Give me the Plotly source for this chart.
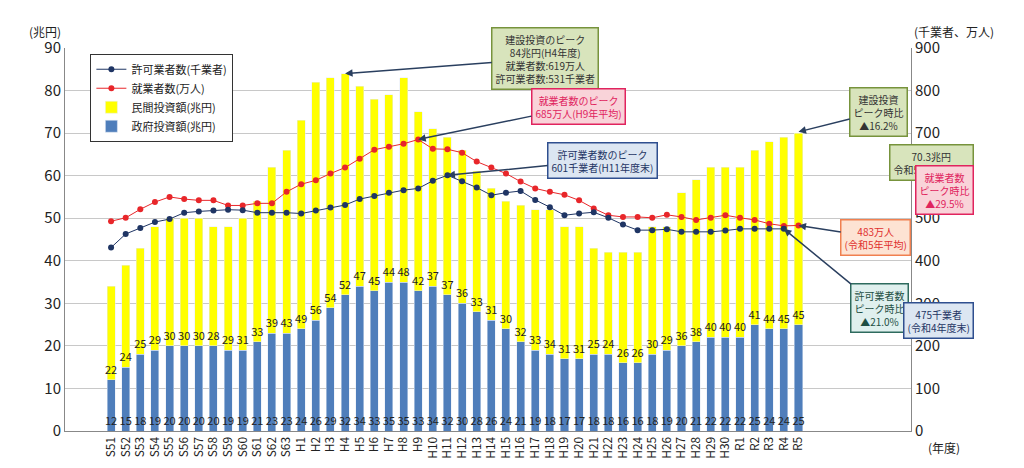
import plotly.graph_objects as go

# 年度
years = ['S51', 'S52', 'S53', 'S54', 'S55', 'S56', 'S57', 'S58', 'S59', 'S60', 'S61', 'S62', 'S63',
         'H1', 'H2', 'H3', 'H4', 'H5', 'H6', 'H7', 'H8', 'H9', 'H10', 'H11', 'H12', 'H13', 'H14', 'H15',
         'H16', 'H17', 'H18', 'H19', 'H20', 'H21', 'H22', 'H23', 'H24', 'H25', 'H26', 'H27', 'H28', 'H29',
         'H30', 'R1', 'R2', 'R3', 'R4', 'R5']

# 政府投資額(兆円)
gov = [12, 15, 18, 19, 20, 20, 20, 20, 19, 19, 21, 23, 23,
       24, 26, 29, 32, 34, 33, 35, 35, 33, 34, 32, 30, 28, 26, 24,
       21, 19, 18, 17, 17, 18, 18, 16, 16, 18, 19, 20, 21, 22,
       22, 22, 25, 24, 24, 25]

# 民間投資額(兆円)
private = [22, 24, 25, 29, 30, 30, 30, 28, 29, 31, 33, 39, 43,
           49, 56, 54, 52, 47, 45, 44, 48, 42, 37, 37, 36, 33, 31, 30,
           32, 33, 34, 31, 31, 25, 24, 26, 26, 30, 29, 36, 38, 40,
           40, 40, 41, 44, 45, 45]

# 就業者数(万人)
workers = [493, 501, 521, 538, 550, 545, 542, 542, 530, 530, 535, 535, 562,
           580, 589, 605, 619, 640, 661, 668, 675, 685, 663, 662, 654, 633, 619, 605,
           586, 570, 562, 555, 542, 523, 507, 503, 503, 501, 508, 503, 496, 501,
           507, 501, 496, 487, 482, 483]

# 許可業者数(千業者)
licensed = [431, 463, 477, 491, 498, 513, 516, 518, 520, 519, 513, 513, 513,
            511, 518, 525, 531, 545, 552, 560, 566, 570, 588, 601, 587, 572, 554, 560,
            564, 543, 526, 507, 511, 514, 501, 485, 472, 472, 474, 468, 468, 468,
            471, 475, 475, 475, 475, None]

jp = 'Noto Sans CJK JP'

fig = go.Figure()
fig.add_trace(go.Bar(x=years, y=gov, name='政府投資額(兆円)', marker_color='#4f7ebb',
                     text=gov, textposition='inside', insidetextanchor='start',
                     textangle=0, textfont=dict(color='#222', size=11)))
fig.add_trace(go.Bar(x=years, y=private, name='民間投資額(兆円)', marker_color='#ffff00',
                     text=private, textposition='inside', insidetextanchor='start',
                     textangle=0, textfont=dict(color='#222', size=11)))
fig.add_trace(go.Scatter(x=years, y=workers, name='就業者数(万人)', yaxis='y2',
                         mode='lines+markers', line=dict(color='#e8262a', width=1),
                         marker=dict(color='#e8262a', size=6)))
fig.add_trace(go.Scatter(x=years, y=licensed, name='許可業者数(千業者)', yaxis='y2',
                         mode='lines+markers', line=dict(color='#1f3564', width=1),
                         marker=dict(color='#1f3564', size=6)))

fig.update_layout(
    width=1024, height=468, barmode='stack', bargap=0.45,
    plot_bgcolor='white', paper_bgcolor='white',
    font=dict(family=jp, size=12, color='#222'),
    margin=dict(l=57, r=121, t=40, b=45),
    uniformtext=dict(minsize=11, mode='show'),
    xaxis=dict(tickangle=-90, showline=True, linecolor='#888', tickfont=dict(size=12)),
    yaxis=dict(range=[0, 90], dtick=10, gridcolor='#c8c8c8', showline=True, linecolor='#888',
               tickfont=dict(size=15)),
    yaxis2=dict(range=[0, 900], dtick=100, overlaying='y', side='right', showgrid=False,
                showline=True, linecolor='#888', tickfont=dict(size=15)),
    legend=dict(x=0.03, y=0.985, xanchor='left', yanchor='top', bgcolor='white',
                bordercolor='#333', borderwidth=1, font=dict(size=11), tracegroupgap=0),
)

ann = [
    dict(x=-0.045, y=1.07, text='(兆円)', showarrow=False),
    dict(x=1.1, y=1.07, text='(千業者、万人)', showarrow=False),
    dict(x=1.06, y=-0.07, text='(年度)', showarrow=False),
]
for a in ann:
    fig.add_annotation(xref='paper', yref='paper', font=dict(size=12), **a)

def box(text, bg, border, color, **kw):
    fig.add_annotation(text=text, bgcolor=bg, bordercolor=border, borderwidth=1.5,
                       borderpad=3, font=dict(size=10, color=color), **kw)

# ピーク表示
box('建設投資のピーク<br>84兆円(H4年度)<br>就業者数:619万人<br>許可業者数:531千業者',
    '#d8e4bc', '#77933c', '#333', x='H4', y=84, ax=200, ay=-15, arrowhead=2, arrowwidth=1.5)
box('就業者数のピーク<br>685万人(H9年平均)', '#f9d3d9', '#e0245e', '#e0245e',
    x='H9', y=685, yref='y2', ax=160, ay=-33, arrowhead=2, arrowwidth=1.5)
box('許可業者数のピーク<br>601千業者(H11年度末)', '#dce6f2', '#2f4f8f', '#1f3564',
    x='H11', y=601, yref='y2', ax=155, ay=-15, arrowhead=2, arrowwidth=1.5)

# 右側の表示
box('建設投資<br>ピーク時比<br>▲16.2%', '#d8e4bc', '#77933c', '#333',
    x='R5', y=70.3, ax=80, ay=-20, arrowhead=2, arrowwidth=1.5)
box('70.3兆円<br>令和5年度見通し', '#d8e4bc', '#77933c', '#333',
    xref='paper', yref='paper', x=1.075, y=0.75, showarrow=False)
box('就業者数<br>ピーク時比<br>▲29.5%', '#f9d3d9', '#e0245e', '#e0245e',
    xref='paper', yref='paper', x=1.075, y=0.63, showarrow=False)
box('483万人<br>(令和5年平均)', '#fde3d3', '#f08050', '#e0302e',
    x='R5', y=483, yref='y2', ax=77, ay=12, arrowhead=2, arrowwidth=1.5)
box('許可業者数<br>ピーク時比<br>▲21.0%', '#dff0ee', '#2e6b5e', '#1e4f44',
    x='R4', y=475, yref='y2', ax=96, ay=79, arrowhead=2, arrowwidth=1.5)
box('475千業者<br>(令和4年度末)', '#dce6f2', '#2f4f8f', '#1f3564',
    xref='paper', yref='paper', x=1.075, y=0.24, showarrow=False)

fig.write_html('out.html')
